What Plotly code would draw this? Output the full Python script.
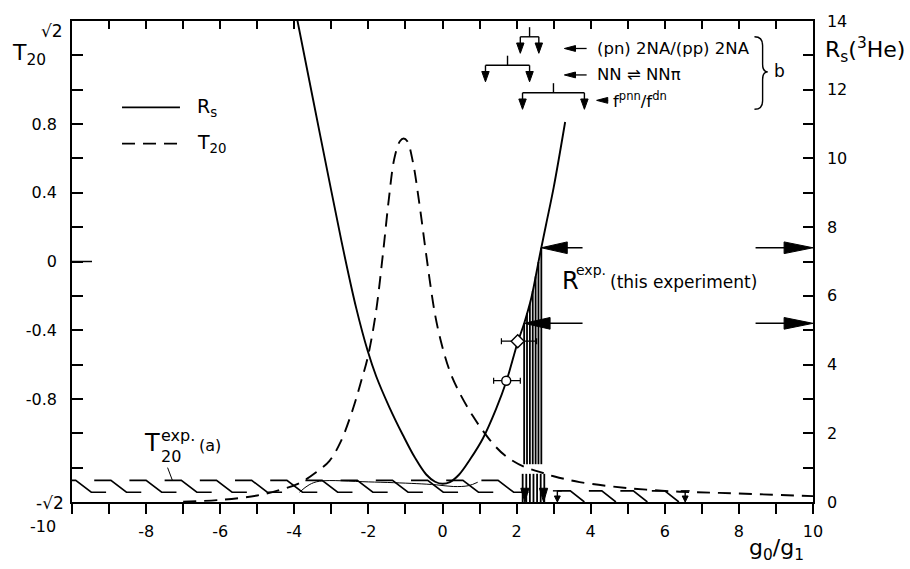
import numpy as np
import plotly.graph_objects as go

# ---------------- theory curves ----------------
rs_x = [-3.95, -3.5, -3.0, -2.66, -2.33, -2.02, -1.79, -1.43, -1.07, -0.75, -0.44, -0.2,
        0.0, 0.2, 0.45, 0.75, 1.09, 1.45, 1.72, 2.03, 2.21, 2.4, 2.62, 2.8, 3.0, 3.31]
rs_y = [14.2, 11.75, 9.05, 7.25, 5.65, 4.4, 3.66, 2.75, 1.95, 1.3, 0.8, 0.59,
        0.53, 0.58, 0.8, 1.25, 1.85, 2.72, 3.5, 4.65, 5.22, 5.95, 7.15, 8.1, 9.15, 11.06]

t20_x = [-7.0, -6.0, -5.0, -4.4, -3.86, -3.41, -3.05, -2.75, -2.42, -2.2, -2.02, -1.8,
         -1.61, -1.45, -1.3, -1.15, -1.05, -0.95, -0.8, -0.62, -0.44, -0.2, 0.0, 0.2,
         0.45, 0.82, 1.09, 1.4, 1.72, 2.2, 2.62, 3.0, 3.7, 5.05, 6.4, 7.48, 10.0]
t20_y = [-1.398, -1.388, -1.362, -1.33, -1.29, -1.227, -1.16, -1.05, -0.86, -0.70, -0.56,
         -0.30, 0.04, 0.36, 0.60, 0.70, 0.716, 0.70, 0.58, 0.33, 0.04, -0.31, -0.50, -0.64,
         -0.76, -0.90, -0.985, -1.07, -1.135, -1.195, -1.225, -1.25, -1.284, -1.32, -1.34,
         -1.347, -1.366]

# thin curve inside the T20 band
thin_x = [-3.86, -3.6, -3.32, -2.0, -0.71, -0.17, 0.3, 0.7, 0.95]
thin_y = [-1.343, -1.30, -1.279, -1.283, -1.293, -1.30, -1.31, -1.305, -1.285]

# ---------------- measured points ----------------
pt_x = [2.03, 1.72]
pt_y = [4.68, 3.53]
pt_xlo = [1.59, 1.38]
pt_xhi = [2.54, 2.10]
pt_symbol = ["diamond", "circle"]

# ---------------- this experiment ----------------
r_exp = [5.2, 7.4]

# T20 experimental band and limits
t20_exp = [-1.343, -1.274]
t20_exp_xmax = 2.9
t20_lim = [-1.40, -1.335]
t20_lim_x = [3.1, 6.55]

# ---------------- model predictions ----------------
pred_labels = ["(pn) 2NA/(pp) 2NA", "NN \u21cc NN\u03c0", "f<sup>pnn</sup>/f<sup>dn</sup>"]
pred_lo = [2.10, 1.16, 2.16]
pred_hi = [2.60, 2.35, 3.83]
pred_row = [13.54, 12.71, 11.91]      # level of the horizontal bar
pred_text_y = [13.2, 12.43, 11.69]

x_ticks = list(range(-10, 11, 2))
t_ticks = [-0.8, -0.4, 0.0, 0.4, 0.8]
t_minor = [-1.2, -1.0, -0.6, -0.2, 0.2, 0.6, 1.0, 1.2]
r_ticks = list(range(0, 15, 2))

FONT = "DejaVu Sans"
BLACK = "black"

fig = go.Figure()

shapes = []
annotations = []


def tri_path(pts):
    return "M " + " L ".join(f"{x:.4f},{y:.4f}" for x, y in pts) + " Z"


def head(x, y, direction, length, half, yref="y2"):
    """Filled arrow head with its tip at (x, y)."""
    if direction == "left":
        pts = [(x, y), (x + length, y + half), (x + length, y - half)]
    elif direction == "right":
        pts = [(x, y), (x - length, y + half), (x - length, y - half)]
    else:  # down
        pts = [(x, y), (x - half, y + length), (x + half, y + length)]
    shapes.append(dict(type="path", path=tri_path(pts), xref="x", yref=yref,
                       fillcolor=BLACK, line=dict(color=BLACK, width=1)))


def seg(x0, y0, x1, y1, yref="y2", width=1.5, dash=None, xref="x"):
    ln = dict(color=BLACK, width=width)
    if dash:
        ln["dash"] = dash
    shapes.append(dict(type="line", x0=x0, y0=y0, x1=x1, y1=y1, xref=xref,
                       yref=yref, line=ln))


def txt(x, y, text, size, xref="x", yref="y2", xanchor="left"):
    annotations.append(dict(x=x, y=y, xref=xref, yref=yref, text=text, showarrow=False,
                            xanchor=xanchor, yanchor="middle",
                            font=dict(size=size, family=FONT, color=BLACK)))


# ---------------- curves ----------------
fig.add_trace(go.Scatter(x=rs_x, y=rs_y, yaxis="y2", mode="lines",
                         line=dict(color=BLACK, width=1.9, shape="spline", smoothing=1.0),
                         hoverinfo="skip"))
fig.add_trace(go.Scatter(x=t20_x, y=t20_y, yaxis="y", mode="lines",
                         line=dict(color=BLACK, width=1.9, dash="13px,8px",
                                   shape="spline", smoothing=1.0),
                         hoverinfo="skip"))
fig.add_trace(go.Scatter(x=thin_x, y=thin_y, yaxis="y", mode="lines",
                         line=dict(color=BLACK, width=1.0, shape="spline"),
                         hoverinfo="skip"))

# ---------------- T20 experimental band (hatched) ----------------
rise_x = rs_x[12:]
rise_y = rs_y[12:]
band_x = np.interp(r_exp, rise_y, rise_x)

hx, hy = [], []
bot, top = t20_exp
for xi in np.arange(-9.9, t20_exp_xmax, 0.95):
    if band_x[0] - 0.15 < xi < band_x[1] + 0.1:
        continue
    hx += [max(xi - 0.45, -10), xi, xi + 0.42, min(xi + 0.82, t20_exp_xmax), None]
    hy += [top, top, bot, bot, None]
fig.add_trace(go.Scatter(x=hx, y=hy, yaxis="y", mode="lines",
                         line=dict(color=BLACK, width=1.6), hoverinfo="skip"))

# right-hand limits (upper limits with arrows)
lx, ly = [], []
lb, lt = t20_lim
for xi in np.arange(t20_lim_x[0] + 0.35, t20_lim_x[1], 0.85):
    lx += [xi - 0.35, xi, xi + 0.38, None]
    ly += [lt, lt, lb, None]
fig.add_trace(go.Scatter(x=lx, y=ly, yaxis="y", mode="lines",
                         line=dict(color=BLACK, width=1.6), hoverinfo="skip"))
for xa in t20_lim_x:
    seg(xa - 0.12, lt, xa + 0.12, lt, yref="y", width=1.4)
    seg(xa, lt, xa, lb + 0.03, yref="y", width=1.4)
    head(xa, lb, "down", 0.035, 0.08, yref="y")

# ---------------- R^exp band (vertical hatch) ----------------
vx, vy = [], []
for xv in np.linspace(band_x[0], band_x[1], 7):
    ytop = min(float(np.interp(xv, rise_x, rise_y)), r_exp[1])
    vx += [xv, xv, None]
    vy += [ytop, 1.1, None]
for xv in np.linspace(band_x[0] - 0.04, band_x[1] + 0.08, 7):
    vx += [xv, xv, None]
    vy += [0.82, 0.0, None]
fig.add_trace(go.Scatter(x=vx, y=vy, yaxis="y2", mode="lines",
                         line=dict(color=BLACK, width=1.8), hoverinfo="skip"))
head(band_x[0] + 0.02, 0.0, "down", 0.4, 0.11)
head(band_x[1] + 0.06, 0.0, "down", 0.4, 0.11)

# arrows marking R^exp on both sides
for xt, r in zip(band_x, r_exp):
    head(xt, r, "left", 0.70, 0.17)
    seg(xt + 0.6, r, 3.78, r, width=1.5)
    head(10.0, r, "right", 0.78, 0.17)
    seg(8.45, r, 9.3, r, width=1.5)

# ---------------- measured points ----------------
for px_, py_, lo, hi, sym in zip(pt_x, pt_y, pt_xlo, pt_xhi, pt_symbol):
    fig.add_trace(go.Scatter(
        x=[px_], y=[py_], yaxis="y2", mode="markers",
        marker=dict(symbol=sym, size=10 if sym == "diamond" else 9, color="white",
                    line=dict(color=BLACK, width=1.4)),
        error_x=dict(type="data", symmetric=False, array=[hi - px_],
                     arrayminus=[px_ - lo], color=BLACK, thickness=1.2, width=3),
        hoverinfo="skip"))

# ---------------- prediction markers (top right) ----------------
for i, (lo, hi, yb, lab, ty) in enumerate(zip(pred_lo, pred_hi, pred_row, pred_labels, pred_text_y)):
    mid = 0.5 * (lo + hi)
    seg(mid, yb, mid, yb + 0.28, width=1.4)
    seg(lo, yb, hi, yb, width=1.4)
    for xe in (lo, hi):
        seg(xe, yb, xe, yb - 0.2, width=1.4)
        head(xe, yb - 0.48, "down", 0.3, 0.1)
    if i < 2:
        tip, tail, tx = 3.29, 3.89, 4.12
    else:
        tip, tail, tx = 4.16, 4.47, 4.56
    head(tip, ty, "left", 0.3, 0.085)
    seg(tip + 0.2, ty, tail, ty, width=1.3)
    txt(tx, ty, lab, 16.5)

# brace grouping the predictions
bx0, bx1, bx2 = 8.42, 8.64, 8.78
yt, ym, yb_ = 13.54, 12.52, 11.43
brace = (f"M {bx0},{yt} Q {bx1},{yt} {bx1},{yt-0.25} L {bx1},{ym+0.22} "
         f"Q {bx1},{ym} {bx2},{ym} Q {bx1},{ym} {bx1},{ym-0.22} "
         f"L {bx1},{yb_+0.25} Q {bx1},{yb_} {bx0},{yb_}")
shapes.append(dict(type="path", path=brace, xref="x", yref="y2",
                   line=dict(color=BLACK, width=1.4)))
txt(8.9, 12.54, "b", 17)

# ---------------- R^exp label ----------------
txt(3.16, 6.44, "R", 24)
txt(3.55, 6.74, "exp.", 14)
txt(4.48, 6.4, "(this experiment)", 17)

# ---------------- T20^exp label ----------------
txt(-8.12, -1.057, "T", 24, yref="y")
txt(-7.66, -1.015, "exp.", 16, yref="y")
txt(-6.62, -1.07, "(a)", 16, yref="y")
txt(-7.66, -1.135, "20", 16, yref="y")
seg(-7.42, -1.2, -7.29, -1.274, yref="y", width=1.0)

# ---------------- legend ----------------
shapes.append(dict(type="line", xref="paper", yref="paper", x0=0.0675, x1=0.1457,
                   y0=0.8204, y1=0.8204, line=dict(color=BLACK, width=1.8)))
shapes.append(dict(type="line", xref="paper", yref="paper", x0=0.0675, x1=0.1457,
                   y0=0.7449, y1=0.7449, line=dict(color=BLACK, width=1.8, dash="13px,8px")))
txt(0.166, 0.8204, "R<sub>s</sub>", 19, xref="paper", yref="paper")
txt(0.166, 0.7449, "T<sub>20</sub>", 19, xref="paper", yref="paper")

# ---------------- axis titles / end labels ----------------
txt(-0.083, 0.93, "T<sub>20</sub>", 22, xref="paper", yref="paper")
txt(1.0135, 0.94, "R<sub>s</sub>(<sup>3</sup>He)", 22, xref="paper", yref="paper")
txt(0.911, -0.098, "g<sub>0</sub>/g<sub>1</sub>", 22, xref="paper", yref="paper")
txt(-0.0094, 0.98, "\u221a2", 17, xref="paper", yref="paper", xanchor="right")
txt(-0.0080, -0.002, "-\u221a2", 17, xref="paper", yref="paper", xanchor="right")
txt(-0.039, -0.051, "-10", 16, xref="paper", yref="paper", xanchor="center")

# longer tick at T20 = 0
shapes.append(dict(type="line", xref="paper", yref="y", x0=0, x1=20 / 741, y0=0, y1=0,
                   line=dict(color=BLACK, width=1.5)))

# invisible trace carrying the top axis
fig.add_trace(go.Scatter(x=[0], y=[0], xaxis="x2", yaxis="y", mode="markers",
                         marker=dict(opacity=0), hoverinfo="skip"))

tick_font = dict(size=16, family=FONT, color=BLACK)
fig.update_layout(
    width=910, height=569,
    margin=dict(l=72, r=97, t=12, b=67),
    paper_bgcolor="white", plot_bgcolor="white",
    showlegend=False,
    font=dict(family=FONT, color=BLACK),
    xaxis=dict(range=[-10, 10], tickmode="array", tickvals=x_ticks,
               ticktext=["" if v == -10 else str(v) for v in x_ticks],
               ticks="outside", ticklen=10, tickwidth=1.5, tickcolor=BLACK,
               minor=dict(dtick=1, tick0=0, ticks="outside", ticklen=10, tickwidth=1.5,
                          tickcolor=BLACK, showgrid=False),
               showline=True, linecolor=BLACK, linewidth=1.5, showgrid=False,
               zeroline=False, tickfont=tick_font, ticklabelstandoff=4),
    xaxis2=dict(range=[-10, 10], overlaying="x", side="top", anchor="y",
                tickmode="linear", tick0=0, dtick=1, ticks="inside", ticklen=8,
                tickwidth=1.5, tickcolor=BLACK, showticklabels=False,
                showline=True, linecolor=BLACK, linewidth=1.5, showgrid=False,
                zeroline=False),
    yaxis=dict(range=[-1.4, 1.4], tickmode="array", tickvals=t_ticks,
               ticktext=["-0.8", "-0.4", "0", "0.4", "0.8"],
               ticks="inside", ticklen=11, tickwidth=1.5, tickcolor=BLACK,
               minor=dict(tickmode="array", tickvals=t_minor, ticks="inside",
                          ticklen=11, tickwidth=1.5, tickcolor=BLACK, showgrid=False),
               showline=True, linecolor=BLACK, linewidth=1.5, showgrid=False,
               zeroline=False, tickfont=tick_font, ticklabelstandoff=10),
    yaxis2=dict(range=[0, 14], overlaying="y", side="right", anchor="x",
                tickmode="array", tickvals=r_ticks, ticktext=[str(v) for v in r_ticks],
                ticks="inside", ticklen=10, tickwidth=1.5, tickcolor=BLACK,
                minor=dict(dtick=1, tick0=0, ticks="inside", ticklen=10, tickwidth=1.5,
                           tickcolor=BLACK, showgrid=False),
                showline=True, linecolor=BLACK, linewidth=1.5, showgrid=False,
                zeroline=False, tickfont=tick_font, ticklabelstandoff=9),
    shapes=shapes,
    annotations=annotations,
)

fig.write_html("out.html")
